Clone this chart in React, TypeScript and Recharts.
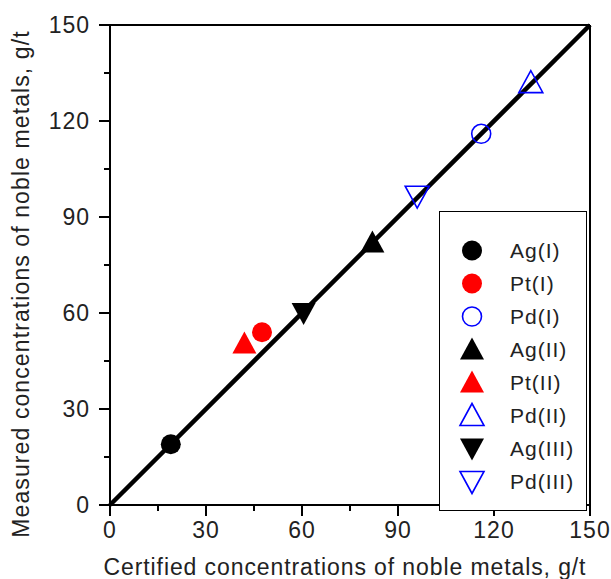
import React from "react"
import { ScatterChart, Scatter, XAxis, YAxis, ReferenceLine } from "recharts"

const FONT = "'Liberation Sans', Arial, sans-serif"

// series names, marker kinds and colours
const seriesNames = ["Ag(I)", "Pt(I)", "Pd(I)", "Ag(II)", "Pt(II)", "Pd(II)", "Ag(III)", "Pd(III)"]
const seriesShapes = ["circle", "circle", "circle", "up", "up", "up", "down", "down"]
const seriesColors = ["#000000", "#ff0000", "#0000ff", "#000000", "#ff0000", "#0000ff", "#000000", "#0000ff"]
const seriesFilled = [true, true, false, true, true, false, true, false]

// certified (x) and measured (y) values, g/t
const certified = [19, 47.5, 116, 82, 42, 131.5, 60.5, 96]
const measured = [19, 54, 116, 82, 50.5, 132, 60, 96.5]

const axisTicks = [0, 15, 30, 45, 60, 75, 90, 105, 120, 135, 150]
const fitLine = [
  { x: 0, y: 0 },
  { x: 150, y: 150 },
]

const xTitle = "Certified concentrations of noble metals, g/t"
const yTitle = "Measured concentrations of noble metals, g/t"

function Marker({ cx, cy, shape, color, filled }: any) {
  const fill = filled ? color : "none"
  const sw = filled ? 0 : 1.6
  if (shape === "circle") {
    return <circle cx={cx} cy={cy} r={filled ? 10 : 9.5} fill={fill} stroke={color} strokeWidth={sw} />
  }
  if (shape === "up") {
    const pts = `${cx},${cy - 12} ${cx - 12},${cy + 10} ${cx + 12},${cy + 10}`
    return <polygon points={pts} fill={fill} stroke={color} strokeWidth={sw} />
  }
  const pts = `${cx},${cy + 12} ${cx - 12},${cy - 10} ${cx + 12},${cy - 10}`
  return <polygon points={pts} fill={fill} stroke={color} strokeWidth={sw} />
}

function XTick({ x, y, payload }: any) {
  const major = payload.value % 30 === 0
  return (
    <g>
      <line x1={x} y1={y} x2={x} y2={y + (major ? 11 : 6)} stroke="#000" strokeWidth={2} />
      {major && (
        <text x={x} y={y + 33} textAnchor="middle" fontSize={23} fontFamily={FONT} letterSpacing={1} fill="#222">
          {payload.value}
        </text>
      )}
    </g>
  )
}

function YTick({ x, y, payload }: any) {
  const major = payload.value % 30 === 0
  return (
    <g>
      <line x1={x} y1={y} x2={x - (major ? 11 : 6)} y2={y} stroke="#000" strokeWidth={2} />
      {major && (
        <text x={x - 20} y={y + 8} textAnchor="end" fontSize={23} fontFamily={FONT} letterSpacing={1} fill="#222">
          {payload.value}
        </text>
      )}
    </g>
  )
}

function XTitle() {
  return (
    <text x={345} y={575} textAnchor="middle" fontSize={23} fontFamily={FONT} letterSpacing={0.9} fill="#222">
      {xTitle}
    </text>
  )
}

function YTitle() {
  return (
    <text
      x={29}
      y={284}
      transform="rotate(-90, 29, 284)"
      textAnchor="middle"
      fontSize={23}
      fontFamily={FONT}
      letterSpacing={1.1}
      fill="#222"
    >
      {yTitle}
    </text>
  )
}

function LegendBox() {
  return (
    <div
      style={{
        position: "absolute",
        left: 439,
        top: 211,
        width: 148,
        height: 300,
        border: "1.5px solid #000",
        background: "#fff",
        boxSizing: "border-box",
        paddingTop: 22,
      }}
    >
      {seriesNames.map((name, i) => (
        <div key={name} style={{ display: "flex", alignItems: "center", height: 33 }}>
          <svg width={70} height={33} style={{ display: "block" }}>
            <Marker cx={32} cy={16.5} shape={seriesShapes[i]} color={seriesColors[i]} filled={seriesFilled[i]} />
          </svg>
          <span style={{ fontFamily: FONT, fontSize: 21, letterSpacing: 1, color: "#222" }}>{name}</span>
        </div>
      ))}
    </div>
  )
}

export default function App() {
  return (
    <div style={{ position: "fixed", left: 0, top: 0, width: 611, height: 579, background: "#fff" }}>
      <ScatterChart width={611} height={579} margin={{ top: 25, right: 21, left: 10, bottom: 0 }}>
        <XAxis
          type="number"
          dataKey="x"
          domain={[0, 150]}
          ticks={axisTicks}
          interval={0}
          tickSize={0}
          tickMargin={0}
          height={74}
          axisLine={{ stroke: "#000", strokeWidth: 2 }}
          tickLine={false}
          tick={<XTick />}
          label={<XTitle />}
        />
        <YAxis
          type="number"
          dataKey="y"
          domain={[0, 150]}
          ticks={axisTicks}
          interval={0}
          tickSize={0}
          tickMargin={0}
          width={100}
          axisLine={{ stroke: "#000", strokeWidth: 2 }}
          tickLine={false}
          tick={<YTick />}
          label={<YTitle />}
        />
        <ReferenceLine y={150} stroke="#000" strokeWidth={2} />
        <ReferenceLine x={150} stroke="#000" strokeWidth={2} />
        <ReferenceLine segment={fitLine} stroke="#000" strokeWidth={4.5} />
        {seriesNames.map((name, i) => (
          <Scatter
            key={name}
            name={name}
            data={[{ x: certified[i], y: measured[i] }]}
            isAnimationActive={false}
            shape={(p: any) => (
              <Marker cx={p.cx} cy={p.cy} shape={seriesShapes[i]} color={seriesColors[i]} filled={seriesFilled[i]} />
            )}
          />
        ))}
      </ScatterChart>
      <LegendBox />
    </div>
  )
}
